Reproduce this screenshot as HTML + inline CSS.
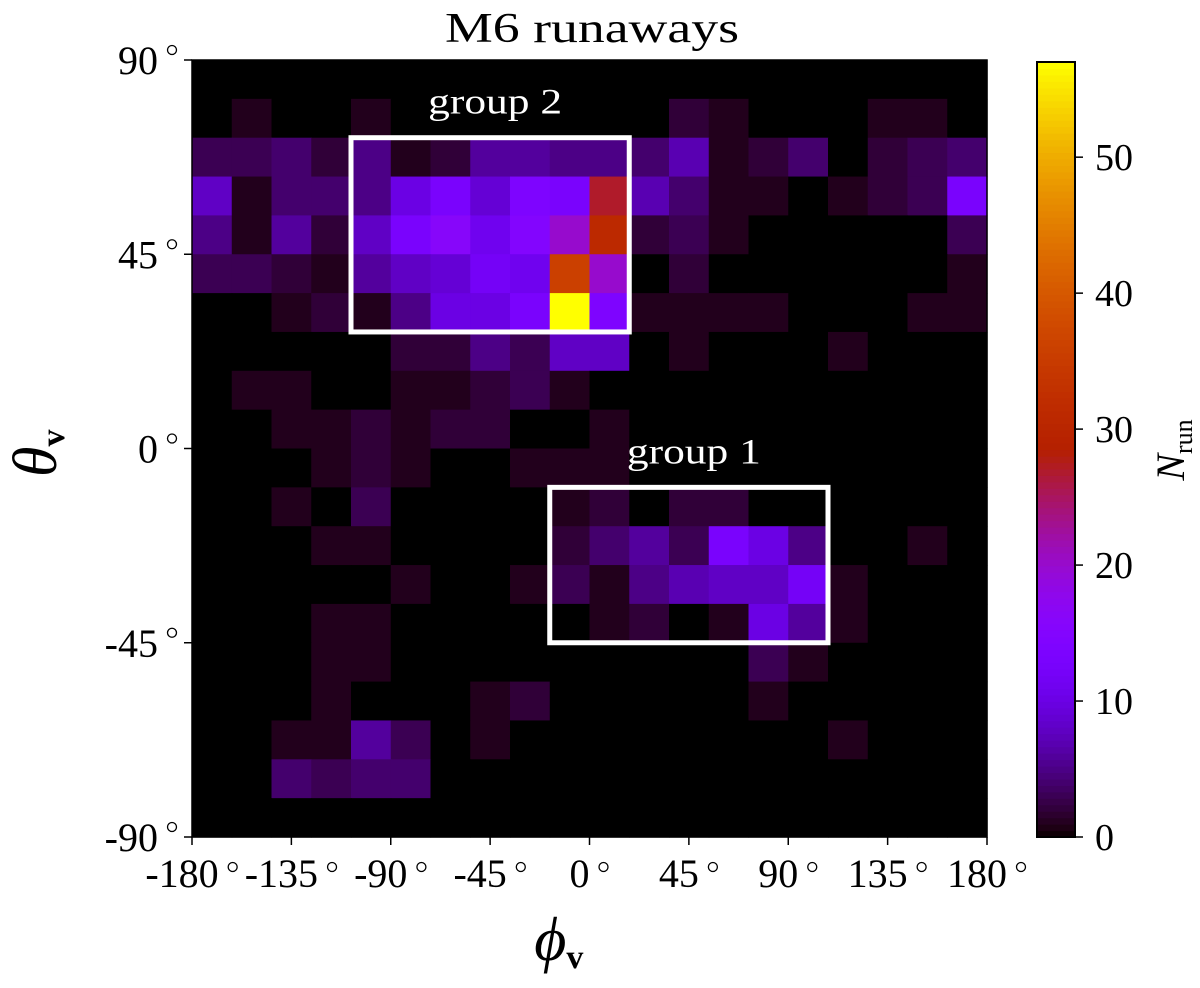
<!DOCTYPE html>
<html><head><meta charset="utf-8"><style>
html,body{margin:0;padding:0;background:#fff;}
svg{display:block;font-family:"Liberation Serif",serif;}
</style></head><body>
<svg id="chart" width="1200" height="988" viewBox="0 0 1200 988" xmlns="http://www.w3.org/2000/svg">
<text x="592" y="42" font-size="42" text-anchor="middle" textLength="294" lengthAdjust="spacingAndGlyphs">M6 runaways</text>
<g id="cells"></g>
<rect x="192" y="60" width="795" height="777" fill="none" stroke="#000" stroke-width="1.5"/>
<g id="boxes"></g>
<g id="axes"></g>
<g id="cbar"></g>
<text x="572" y="960" font-size="62" font-style="italic" text-anchor="middle">ϕ<tspan font-size="34" font-weight="bold" font-style="normal" dy="8">v⃗</tspan></text>
<text transform="translate(56,440) rotate(-90)" font-size="62" font-style="italic" text-anchor="middle">θ<tspan font-size="34" font-weight="bold" font-style="normal" dy="8">v⃗</tspan></text>
<text transform="translate(1184,450) rotate(-90)" font-size="40" font-style="italic" text-anchor="middle">N<tspan font-size="26" font-style="normal" dy="8">run</tspan></text>
</svg>
<script>
// 20x20 counts, rows top (theta 90) to bottom (theta -90), cols phi -180..180
const counts = [
[0,0,0,0,0,0,0,0,0,0,0,0,0,0,0,0,0,0,0,0],
[0,1,0,0,1,0,0,0,0,0,0,0,2,1,0,0,0,1,1,0],
[3,3,4,2,5,1,2,6,6,5,5,4,7,1,2,4,0,2,3,4],
[8,1,4,4,5,10,13,9,14,13,27,7,4,1,1,0,1,2,3,13],
[5,1,6,2,8,13,16,11,15,20,31,2,3,1,0,0,0,0,0,3],
[3,3,2,1,6,8,9,12,11,36,20,0,2,0,0,0,0,0,0,1],
[0,0,1,2,1,5,10,10,13,57,14,1,1,1,1,0,0,0,1,1],
[0,0,0,0,0,2,2,5,3,8,8,0,1,0,0,0,1,0,0,0],
[0,1,1,0,0,1,1,2,3,1,0,0,0,0,0,0,0,0,0,0],
[0,0,1,1,2,1,2,2,0,0,1,0,0,0,0,0,0,0,0,0],
[0,0,0,1,2,1,0,0,1,1,1,0,0,0,0,0,0,0,0,0],
[0,0,1,0,3,0,0,0,0,1,2,0,2,2,0,0,0,0,0,0],
[0,0,0,1,1,0,0,0,0,2,4,6,3,13,10,5,0,0,1,0],
[0,0,0,0,0,1,0,0,1,3,1,5,7,8,8,12,1,0,0,0],
[0,0,0,1,1,0,0,0,0,0,1,2,0,1,10,6,1,0,0,0],
[0,0,0,1,1,0,0,0,0,0,0,0,0,0,3,1,0,0,0,0],
[0,0,0,1,0,0,0,1,2,0,0,0,0,0,1,0,0,0,0,0],
[0,0,1,1,6,3,0,1,0,0,0,0,0,0,0,0,1,0,0,0],
[0,0,4,3,4,4,0,0,0,0,0,0,0,0,0,0,0,0,0,0],
[0,0,0,0,0,0,0,0,0,0,0,0,0,0,0,0,0,0,0,0]
];
const xTicks = [-180,-135,-90,-45,0,45,90,135,180];
const yTicks = [90,45,0,-45,-90];
const cbTicks = [0,10,20,30,40,50];
const vmax = 57;
const groupBoxes = [{name:'group-2',label:'group 2',phi0:-108,phi1:18,th0:27,th1:72},
                    {name:'group-1',label:'group 1',phi0:-18,phi1:108,th0:-45,th1:-9}];

const NS='http://www.w3.org/2000/svg';
const X0=192,X1=987,Y0=60,Y1=837;
const xs=p=>X0+(p+180)/360*(X1-X0);
const ys=t=>Y0+(90-t)/180*(Y1-Y0);
function cmap(v){const x=Math.max(0,Math.min(1,v/vmax));
 const r=Math.sqrt(x),g=x*x*x,b=Math.max(0,Math.sin(2*Math.PI*x));
 return `rgb(${Math.round(r*255)},${Math.round(g*255)},${Math.round(b*255)})`;}
function mk(tag,attrs,parent){const e=document.createElementNS(NS,tag);for(const k in attrs)e.setAttribute(k,attrs[k]);parent.appendChild(e);return e;}

const cells=document.getElementById('cells');
const nr=counts.length,nc=counts[0].length;
for(let r=0;r<nr;r++)for(let c=0;c<nc;c++){
 const p0=-180+c*360/nc,p1=p0+360/nc,t1=90-r*180/nr,t0=t1-180/nr;
 const e=mk('rect',{x:xs(p0),y:ys(t1),width:xs(p1)-xs(p0)+0.6,height:ys(t0)-ys(t1)+0.6,fill:cmap(counts[r][c])},cells);
 
 
}
const boxes=document.getElementById('boxes');
groupBoxes.forEach(g=>{
 const e=mk('rect',{x:xs(g.phi0),y:ys(g.th1),width:xs(g.phi1)-xs(g.phi0),height:ys(g.th0)-ys(g.th1),fill:'none',stroke:'#fff','stroke-width':5},boxes);
 
 
 const t=mk('text',{x:(xs(g.phi0)+xs(g.phi1))/2+5,y:ys(g.th1)-24,fill:'#fff','font-size':36,'text-anchor':'middle',textLength:134,lengthAdjust:'spacingAndGlyphs'},boxes);
 t.textContent=g.label;
 
 
});
const axes=document.getElementById('axes');
xTicks.forEach(v=>{
 const x=xs(v);
 const l=mk('line',{x1:x,x2:x,y1:Y1,y2:Y1+8,stroke:'#000','stroke-width':1.5},axes);
 
 
 const t=mk('text',{x:0,y:Y1+50,'font-size':40,'text-anchor':'start'},axes);
 t.textContent=v;
 
 
 const w=t.getComputedTextLength();
 const total=w+20;
 const start=x-total/2;
 t.setAttribute('x',start);
 const d=mk('circle',{cx:start+w+14,cy:Y1+30,r:4.5,fill:'none',stroke:'#000','stroke-width':1.3},axes);
 
 
});
yTicks.forEach(v=>{
 const y=ys(v);
 const l=mk('line',{x1:X0-8,x2:X0,y1:y,y2:y,stroke:'#000','stroke-width':1.5},axes);
 
 
 const t=mk('text',{x:X0-34,y:y+14,'font-size':40,'text-anchor':'end'},axes);
 t.textContent=v;
 
 
 const d=mk('circle',{cx:X0-20,cy:y-10,r:4.5,fill:'none',stroke:'#000','stroke-width':1.3},axes);
 
 
});
const cb=document.getElementById('cbar');
const CX=1037,CW=38,CT=62,CB=837;
const cys=v=>CB-v/vmax*(CB-CT);
for(let i=0;i<120;i++){const v0=i/120*vmax,v1=(i+1)/120*vmax;
 const e=mk('rect',{x:CX,y:cys(v1),width:CW,height:cys(v0)-cys(v1)+0.6,fill:cmap((v0+v1)/2)},cb);
 
 
}
const fr=mk('rect',{x:CX,y:CT,width:CW,height:CB-CT,fill:'none',stroke:'#000','stroke-width':2},cb);


cbTicks.forEach(v=>{
 const y=cys(v);
 const l=mk('line',{x1:CX+CW,x2:CX+CW+8,y1:y,y2:y,stroke:'#000','stroke-width':1.5},cb);
 
 
 const t=mk('text',{x:CX+CW+20,y:y+13,'font-size':38},cb);
 t.textContent=v;
 
 
});
</script>
</body></html>
